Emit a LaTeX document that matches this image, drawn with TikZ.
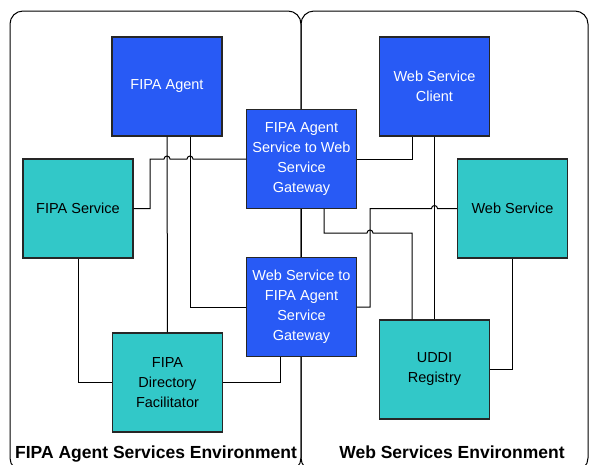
\documentclass[tikz,border=0pt]{standalone}
\usepackage{fontspec}
\setmainfont{Liberation Sans}
\usepackage{tikz}
\usetikzlibrary{shapes,arrows,positioning}

\definecolor{agentblue}{RGB}{40,90,245}
\definecolor{servteal}{RGB}{50,200,200}

\begin{document}
\begin{tikzpicture}[x=1pt,y=-1pt,line width=1pt,
  box/.style={rectangle,draw=black!85,line width=1.2pt,minimum width=110pt,minimum height=99pt,align=center,font=\fontsize{14.5}{20}\selectfont},
  agentbox/.style={box,fill=agentblue,text=white},
  servbox/.style={box,fill=servteal,text=black},
  envlabel/.style={anchor=base,font=\fontsize{17.5}{20}\selectfont\bfseries}]
 \useasboundingbox (0,0) rectangle (589,464);
 \clip (0,0) rectangle (589,464);

 % the two environments
 \draw[rounded corners=13pt] (10,11) rectangle (301,471);
 \draw[rounded corners=13pt] (301,11) rectangle (588,471);
 \node[envlabel] (fenv) at (156,458) {FIPA Agent Services Environment};
 \node[envlabel] (wenv) at (452,458) {Web Services Environment};

 % boxes
 \node[agentbox] (agent) at (167,86.5) {FIPA Agent};
 \node[servbox] (fserv) at (78,208.5) {FIPA Service};
 \node[agentbox] (gwfw) at (301.5,159) {FIPA Agent\\Service to Web\\Service\\Gateway};
 \node[agentbox] (gwwf) at (301.5,307) {Web Service to\\FIPA Agent\\Service\\Gateway};
 \node[servbox] (df) at (167.5,382.5) {FIPA\\Directory\\Facilitator};
 \node[agentbox] (client) at (434.5,86.5) {Web Service\\Client};
 \node[servbox] (wserv) at (512.5,208.5) {Web Service};
 \node[servbox] (uddi) at (434.5,369.5) {UDDI\\Registry};

 % links, with hops where lines cross
 \draw (fserv.east) -| (150,159) -- (164,159) arc[start angle=180,end angle=0,radius=3pt]
   -- (187,159) arc[start angle=180,end angle=0,radius=3pt] -- (gwfw.west);
 \draw (agent) -- (df);
 \draw ([xshift=23pt]agent.south) |- (gwwf.west);
 \draw (fserv.south) |- (df.west);
 \draw (df.east) -| ([xshift=-21pt]gwwf.south);
 \draw (gwfw) -- (gwwf);
 \draw (gwfw.east) -| ([xshift=-22.5pt]client.south);
 \draw (client) -- (uddi);
 \draw ([xshift=22.5pt]gwfw.south) |- (367,233) arc[start angle=180,end angle=0,radius=3pt]
   -| ([xshift=-22.5pt]uddi.north);
 \draw (wserv.west) -- (437.5,208.5) arc[start angle=0,end angle=180,radius=3pt]
   -| (370,307) -- (gwwf.east);
 \draw (wserv.south) |- (uddi.east);
\end{tikzpicture}
\end{document}
